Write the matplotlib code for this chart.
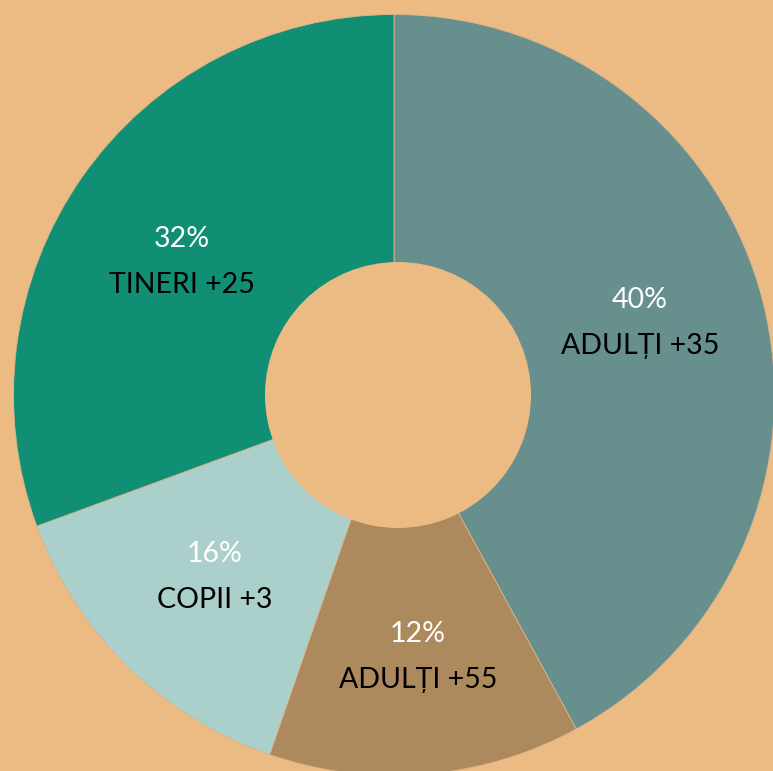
import numpy as np
import matplotlib
matplotlib.use("Agg")
import matplotlib.pyplot as plt
from matplotlib.patches import Circle

categories = ["ADULȚI +35", "ADULȚI +55", "COPII +3", "TINERI +25"]
values = [42.05, 13.25, 14.1, 30.6]
pct_labels = ["40%", "12%", "16%", "32%"]
colors = ["#678f8e", "#ad8a5d", "#abcfca", "#118f74"]
bg = "#ecbb84"

# label anchor positions (pixels from top-left) - layout only
label_pos = [(640, 323), (418, 657), (215, 577), (182, 262)]

W, H = 773, 771
fig = plt.figure(figsize=(W / 100, H / 100), dpi=100, facecolor=bg)
ax = fig.add_axes([0, 0, 1, 1])
ax.set_facecolor(bg)

cx, cy, R = 394, H - 395, 380.5
wedges, _ = ax.pie(values, colors=colors, startangle=90, counterclock=False,
                   center=(cx, cy), radius=R,
                   wedgeprops=dict(edgecolor="#d8b48a", linewidth=0.6))
ax.add_patch(Circle((398, H - 395), 133, facecolor=bg, edgecolor="none", zorder=5))

ax.set_xlim(0, W)
ax.set_ylim(0, H)
ax.set_aspect("auto")
ax.axis("off")

fam = ["Lato", "DejaVu Sans"]
for (px, py), cat, pl in zip(label_pos, categories, pct_labels):
    x, y = px, H - py
    ax.text(x, y + 23, pl, color="white", fontsize=20.5, ha="center", va="center",
            family=fam, zorder=6)
    ax.text(x, y - 23, cat, color="black", fontsize=20.5, ha="center", va="center",
            family=fam, zorder=6)

fig.savefig("out.png", dpi=100, facecolor=bg)
